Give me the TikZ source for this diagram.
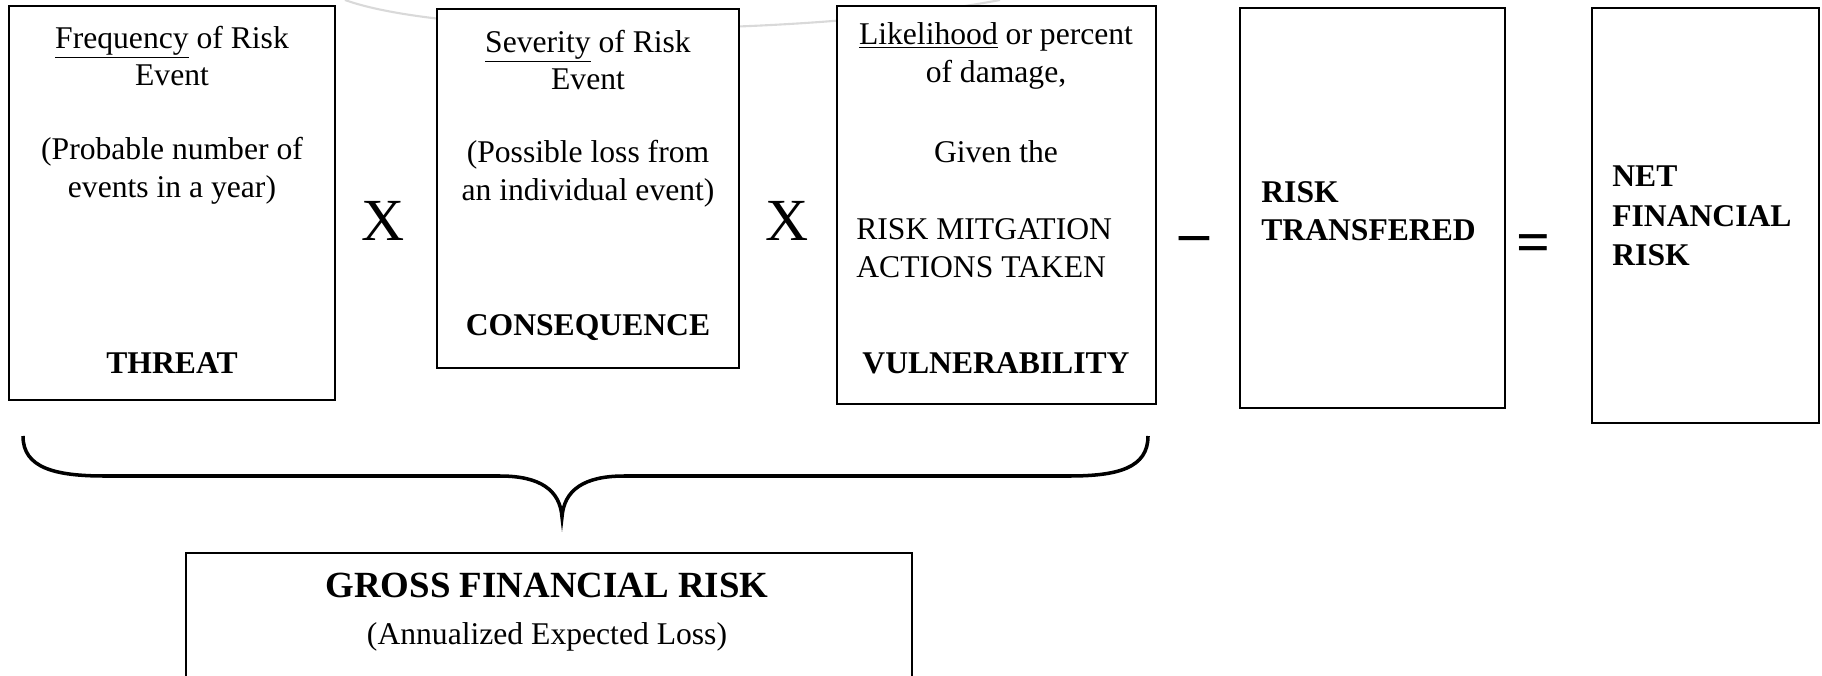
\documentclass[tikz,border=0pt]{standalone}
\usepackage{fontspec}
\setmainfont{Liberation Serif}

\begin{document}
\begin{tikzpicture}[x=0.02cm,y=-0.02cm]
\tikzstyle{every node}+=[inner sep=0pt, font=\fontsize{18}{21.5}\selectfont]
\tikzstyle{box}=[draw=black, line width=1.1pt, fill=white]
\tikzstyle{op}=[font=\fontsize{34}{40}\selectfont]
\useasboundingbox (0,0) rectangle (1822,676);
% faint arc behind the boxes
\draw [gray!30, line width=1.2pt] (345,0) .. controls (450,38) and (800,38) .. (1000,0);
\draw [box] (9,6) rectangle (335,400);
\draw [box] (437,9) rectangle (739,368);
\draw [box] (837,6) rectangle (1156,404);
\draw [box] (1240,8) rectangle (1505,408);
\draw [box] (1592,8) rectangle (1819,423);
\draw [box] (186,553) rectangle (912,720);
\node (freq) [align=center] at (172,56) {\underline{Frequency} of Risk\\Event};
\node (probable) [align=center] at (172,171) {(Probable number of\\events in a year)};
\node (threat) at (172,363) {\textbf{THREAT}};
\node (sev) [align=center] at (588,60) {\underline{Severity} of Risk\\Event};
\node (possible) [align=center] at (588,174) {(Possible loss from\\an individual event)};
\node (conseq) at (588,328) {\textbf{CONSEQUENCE}};
\node (likely) [align=center] at (996,56) {\underline{Likelihood} or percent\\of damage,};
\node (given) at (996,152) {Given the};
\node (mitig) [align=left, anchor=west] at (856,248) {RISK MITGATION\\ACTIONS TAKEN};
\node (vuln) at (996,363) {\textbf{VULNERABILITY}};
\node (transf) [align=left, anchor=west, font=\fontsize{18}{21.5}\selectfont\bfseries] at (1261,211) {RISK\\TRANSFERED};
\node (net) [align=left, anchor=west, font=\fontsize{18}{22.5}\selectfont\bfseries] at (1612,216) {NET\\FINANCIAL\\RISK};
\node (times1) [op] at (383,221) {X};
\node (times2) [op] at (787,221) {X};
\node (minus) [op] at (1195,244) {\textbf{–}};
\node (equals) [op] at (1534,249) {\textbf{=}};
\node (gross) [font=\fontsize{21}{25}\selectfont\bfseries] at (547,585) {GROSS FINANCIAL RISK};
\node (annual) at (547,637) {(Annualized Expected Loss)};
% brace
\draw [line width=2pt] (23,436) .. controls (23,468) and (55,476) .. (105,476) -- (500,476)
  .. controls (540,476) and (560,490) .. (562,517)
  .. controls (564,490) and (584,476) .. (624,476) -- (1069,476)
  .. controls (1118,476) and (1148,468) .. (1148,436);
\end{tikzpicture}
\end{document}
